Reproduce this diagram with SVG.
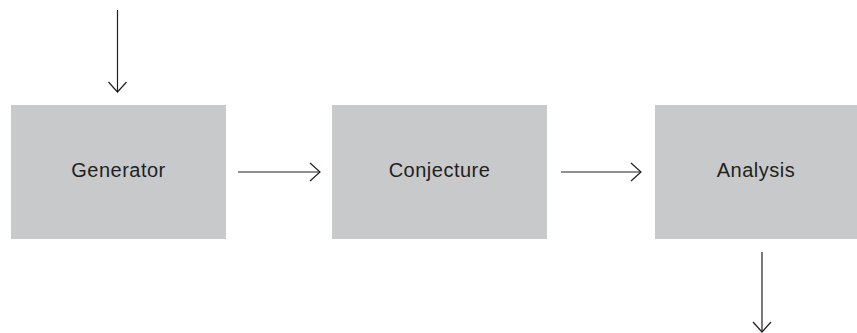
<svg xmlns="http://www.w3.org/2000/svg" width="857" height="333" viewBox="0 0 857 333">
<defs>
<style>
.box{fill:#c8c9cb}
.lbl{font-family:"Liberation Sans",Arial,sans-serif;font-size:20px;letter-spacing:0.5px;fill:#231f20;text-anchor:middle}
.con{stroke:#231f20;stroke-width:1.2;fill:none}
</style>
<marker id="ah" viewBox="0 0 12 20" refX="11" refY="10" markerWidth="12" markerHeight="20" markerUnits="userSpaceOnUse" orient="auto">
<path d="M1,1 L11,10 L1,19" fill="none" stroke="#231f20" stroke-width="1.2"/>
</marker>
</defs>
<g id="generator"><rect class="box" x="11" y="105" width="215" height="134"/><text class="lbl" x="118.5" y="177">Generator</text></g>
<g id="conjecture"><rect class="box" x="332" y="105" width="215" height="134"/><text class="lbl" x="439.5" y="177">Conjecture</text></g>
<g id="analysis"><rect class="box" x="655" y="105" width="202" height="134"/><text class="lbl" x="756" y="177">Analysis</text></g>
<g id="connectors">
<line class="con" x1="117.5" y1="10" x2="117.5" y2="92" marker-end="url(#ah)"/>
<line class="con" x1="238" y1="172" x2="320" y2="172" marker-end="url(#ah)"/>
<line class="con" x1="561" y1="172" x2="641" y2="172" marker-end="url(#ah)"/>
<line class="con" x1="762" y1="252" x2="762" y2="332" marker-end="url(#ah)"/>
</g>
</svg>
